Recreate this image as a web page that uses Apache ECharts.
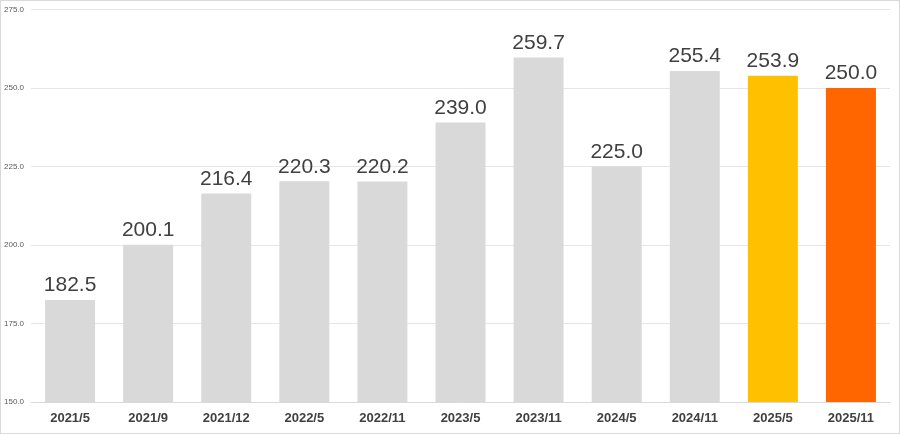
<!DOCTYPE html>
<html><head><meta charset="utf-8">
<script src="https://cdn.jsdelivr.net/npm/echarts@6/dist/echarts.min.js"></script>
<style>html,body{margin:0;padding:0;background:#fff}#c{width:898px;height:432px;border:1px solid #d9d9d9}</style>
</head><body><div id="c"></div>
<script>
const categories = ['2021/5','2021/9','2021/12','2022/5','2022/11','2023/5','2023/11','2024/5','2024/11','2025/5','2025/11'];
const values = [182.5,200.1,216.4,220.3,220.2,239.0,259.7,225.0,255.4,253.9,250.0];
const barColors = ['#d9d9d9','#d9d9d9','#d9d9d9','#d9d9d9','#d9d9d9','#d9d9d9','#d9d9d9','#d9d9d9','#d9d9d9','#ffc000','#ff6600'];
const chart = echarts.init(document.getElementById('c'));
chart.setOption({
  animation:false,
  grid:{left:30,right:9,top:8.5,bottom:31},
  xAxis:{type:'category',data:categories,
    axisLine:{lineStyle:{color:'#d9d9d9'}},axisTick:{show:false},
    axisLabel:{color:'#404040',fontWeight:'bold',fontSize:13,fontFamily:'Liberation Sans, Arial',margin:10}},
  yAxis:{type:'value',min:150,max:275,interval:25,
    axisLine:{show:false},axisTick:{show:false},
    splitLine:{lineStyle:{color:'#e6e6e6'}},
    axisLabel:{color:'#595959',fontSize:8,fontFamily:'Liberation Sans, Arial',margin:7,formatter:v=>v.toFixed(1)}},
  series:[{type:'bar',barWidth:'64%',
    data:values.map((v,i)=>({value:v,itemStyle:{color:barColors[i]}})),
    label:{show:true,position:'top',distance:4,color:'#404040',fontSize:21,fontFamily:'Liberation Sans, Arial',formatter:p=>p.value.toFixed(1)}}]
});
</script></body></html>
